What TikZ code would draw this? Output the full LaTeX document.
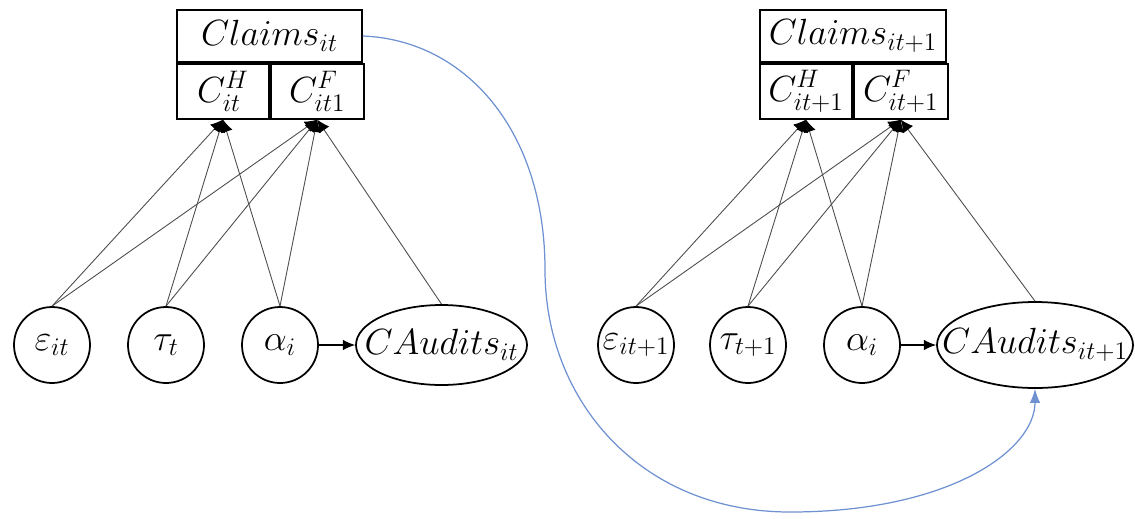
\documentclass[tikz,border=0pt]{standalone}
\usetikzlibrary{positioning,shapes.geometric,arrows.meta}
\definecolor{linkblue}{RGB}{110,145,210}
\begin{document}
\begin{tikzpicture}[font=\fontsize{19.5}{23}\selectfont,
  var/.style={circle,draw,line width=1pt,minimum size=1.52cm,inner sep=0pt},
  outcome/.style={ellipse,draw,line width=1pt,inner sep=0pt},
  cell/.style={rectangle,draw,line width=1pt,inner sep=0pt,minimum height=1.1cm},
  link/.style={-{Latex[length=7pt,width=7pt,color=black]},black!70,line width=0.5pt}]
 \useasboundingbox (0,0) rectangle (22.7,-10.36);

 %Claims boxes
 \node (claims1) [cell, minimum width=3.7cm, minimum height=1.04cm] at (5.39,-0.72) {$Claims_{it}$};
 \node (CH1) [cell, minimum width=1.84cm, below right=0pt and 0pt of claims1.south west] {$C^H_{it}$};
 \node (CF1) [cell, minimum width=1.86cm, right=0pt of CH1] {$C^F_{it1}$};

 \node (claims2) [cell, minimum width=3.72cm, minimum height=1.04cm] at (17.06,-0.72) {$Claims_{it+1}$};
 \node (CH2) [cell, minimum width=1.84cm, below right=0pt and 0pt of claims2.south west] {$C^H_{it+1}$};
 \node (CF2) [cell, minimum width=1.88cm, right=0pt of CH2] {$C^F_{it+1}$};

 %Variables
 \node (eps1) [var] at (1.04,-6.9) {$\varepsilon_{it}$};
 \node (tau1) [var] at (3.32,-6.9) {$\tau_t$};
 \node (alpha1) [var] at (5.6,-6.9) {$\alpha_i$};
 \node (audits1) [outcome, minimum width=3.42cm, minimum height=1.6cm] at (8.83,-6.9) {\makebox[0pt]{$CAudits_{it}$}};

 \node (eps2) [var] at (12.72,-6.9) {\makebox[0pt]{$\varepsilon_{it+1}$}};
 \node (tau2) [var] at (14.96,-6.9) {\makebox[0pt]{$\tau_{t+1}$}};
 \node (alpha2) [var] at (17.24,-6.9) {$\alpha_i$};
 \node (audits2) [outcome, minimum width=3.92cm, minimum height=1.72cm] at (20.7,-6.9) {\makebox[0pt]{$CAudits_{it+1}$}};

 %Links
 \foreach \src in {eps1,tau1,alpha1}
   \foreach \dst in {CH1,CF1}
     \draw[link] (\src.north) -- (\dst.south);
 \draw[link] (audits1.north) -- (CF1.south);

 \foreach \src in {eps2,tau2,alpha2}
   \foreach \dst in {CH2,CF2}
     \draw[link] (\src.north) -- (\dst.south);
 \draw[link] (audits2.north) -- (CF2.south);

 \draw[-{Latex[length=7pt,width=6pt]}, line width=0.6pt] (alpha1) -- (audits1);
 \draw[-{Latex[length=7pt,width=6pt]}, line width=0.6pt] (alpha2) -- (audits2);

 %Across periods
 \draw[linkblue, line width=0.7pt, -{Latex[length=8pt,width=6pt]}] (claims1.east) .. controls (9.3,-0.8) and (10.9,-2.6) .. (10.9,-5.4)
   .. controls (10.9,-8) and (12.8,-10.24) .. (15.8,-10.24)
   .. controls (19,-10.24) and (20.7,-9) .. (audits2.south);
\end{tikzpicture}
\end{document}
